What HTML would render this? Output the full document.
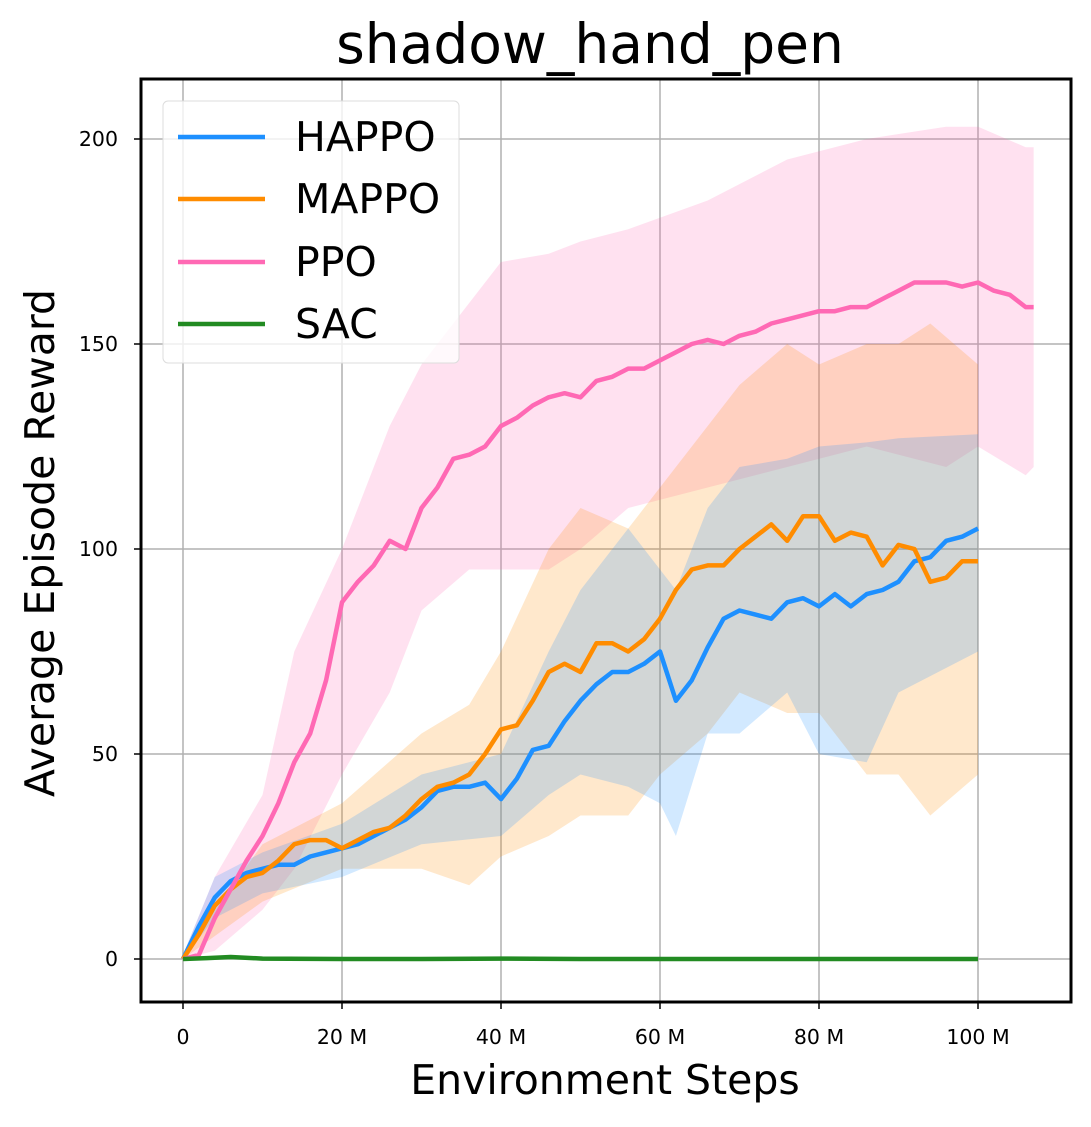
<!DOCTYPE html>
<html><head><meta charset="utf-8"><style>
body{margin:0;background:#fff}
svg text{font-family:"DejaVu Sans","Liberation Sans",sans-serif}
</style></head><body>
<svg id="c" width="1091" height="1122" xmlns="http://www.w3.org/2000/svg">
<rect width="1091" height="1122" fill="#fff"/>
<text x="590" y="63" font-size="55" text-anchor="middle">shadow_hand_pen</text>
<g id="grid"></g>
<g id="bands"></g>
<g id="lines"></g>
<rect x="141" y="79" width="930" height="923" fill="none" stroke="#000" stroke-width="3"/>
<g id="ticks"></g>
<text x="605" y="1094" font-size="41" text-anchor="middle">Environment Steps</text>
<text transform="translate(54,543) rotate(-90)" font-size="41" text-anchor="middle">Average Episode Reward</text>
<g>
<rect x="163" y="101" width="296" height="262" rx="5" fill="#fff" fill-opacity="0.8" stroke="#ddd"/>
<g><line x1="178" x2="265" y1="137" y2="137" stroke="#1e90ff" stroke-width="4.5"/><text x="295" y="151" font-size="41">HAPPO</text></g>
<g><line x1="178" x2="265" y1="199" y2="199" stroke="#ff8c00" stroke-width="4.5"/><text x="295" y="213" font-size="41">MAPPO</text></g>
<g><line x1="178" x2="265" y1="262" y2="262" stroke="#ff69b4" stroke-width="4.5"/><text x="295" y="276" font-size="41">PPO</text></g>
<g><line x1="178" x2="265" y1="324" y2="324" stroke="#228b22" stroke-width="4.5"/><text x="295" y="338" font-size="41">SAC</text></g>
</g>
</svg>
<script>
const xTicks=[0,20,40,60,80,100];
const xTickLabels=["0","20 M","40 M","60 M","80 M","100 M"];
const yTicks=[0,50,100,150,200];
const yTickLabels=["0","50","100","150","200"];

const happoX=[0,2,4,6,8,10,12,14,16,18,20,22,24,26,28,30,32,34,36,38,40,42,44,46,48,50,52,54,56,58,60,62,64,66,68,70,72,74,76,78,80,82,84,86,88,90,92,94,96,98,100];
const happoY=[0,8,15,19,21,22,23,23,25,26,27,28,30,32,34,37,41,42,42,43,39,44,51,52,58,63,67,70,70,72,75,63,68,76,83,85,84,83,87,88,86,89,86,89,90,92,97,98,102,103,105];
const happoBandX=[0,4,10,20,30,40,46,50,56,60,62,66,70,76,80,86,90,100];
const happoHi=[1,20,26,33,45,50,75,90,105,95,90,110,120,122,125,126,127,128];
const happoLo=[0,10,16,20,28,30,40,45,42,38,30,55,55,65,50,48,65,75];

const mappoX=[0,2,4,6,8,10,12,14,16,18,20,22,24,26,28,30,32,34,36,38,40,42,44,46,48,50,52,54,56,58,60,62,64,66,68,70,72,74,76,78,80,82,84,86,88,90,92,94,96,98,100];
const mappoY=[0,6,13,17,20,21,24,28,29,29,27,29,31,32,35,39,42,43,45,50,56,57,63,70,72,70,77,77,75,78,83,90,95,96,96,100,103,106,102,108,108,102,104,103,96,101,100,92,93,97,97];
const mappoBandX=[0,10,20,30,36,40,46,50,56,60,66,70,76,80,86,90,94,100];
const mappoHi=[1,28,38,55,62,75,100,110,105,115,130,140,150,145,150,150,155,145];
const mappoLo=[0,14,22,22,18,25,30,35,35,45,55,65,60,60,45,45,35,45];

const ppoX=[0,2,4,6,8,10,12,14,16,18,20,22,24,26,28,30,32,34,36,38,40,42,44,46,48,50,52,54,56,58,60,62,64,66,68,70,72,74,76,78,80,82,84,86,88,90,92,94,96,98,100,102,104,106,107];
const ppoY=[0,1,10,17,24,30,38,48,55,68,87,92,96,102,100,110,115,122,123,125,130,132,135,137,138,137,141,142,144,144,146,148,150,151,150,152,153,155,156,157,158,158,159,159,161,163,165,165,165,164,165,163,162,159,159];
const ppoBandX=[0,4,10,14,20,26,30,36,40,46,50,56,66,76,86,96,100,106,107];
const ppoHi=[1,20,40,75,100,130,145,160,170,172,175,178,185,195,200,203,203,198,198];
const ppoLo=[0,2,12,22,45,65,85,95,95,95,100,110,115,120,125,120,125,118,120];

const sacX=[0,3,6,10,20,30,40,50,60,70,80,90,100];
const sacY=[0,0.2,0.5,0.1,0,0,0.1,0,0,0,0,0,0];

const X0=183,XS=7.95,Y0=959,YS=4.1;
const sx=v=>X0+v*XS, sy=v=>Y0-v*YS;
const NS="http://www.w3.org/2000/svg";
function mk(t,a,p){const e=document.createElementNS(NS,t);for(const k in a)e.setAttribute(k,a[k]);p.appendChild(e);return e;}
const grid=document.getElementById('grid'),ticks=document.getElementById('ticks');
xTicks.forEach((v,i)=>{
  const g=mk('line',{x1:sx(v),x2:sx(v),y1:79,y2:1002,stroke:'#b0b0b0','stroke-width':1.5},grid);
  
  
  mk('line',{x1:sx(v),x2:sx(v),y1:1002,y2:1009,stroke:'#000','stroke-width':1.5},ticks);
  const t=mk('text',{x:sx(v),y:1044,'font-size':20.5,'text-anchor':'middle'},ticks);
  t.textContent=xTickLabels[i];
  
  
});
yTicks.forEach((v,i)=>{
  const g=mk('line',{x1:141,x2:1071,y1:sy(v),y2:sy(v),stroke:'#b0b0b0','stroke-width':1.5},grid);
  
  
  mk('line',{x1:134,x2:141,y1:sy(v),y2:sy(v),stroke:'#000','stroke-width':1.5},ticks);
  const t=mk('text',{x:118,y:sy(v)+7,'font-size':20.5,'text-anchor':'end'},ticks);
  t.textContent=yTickLabels[i];
  
  
});
const bands=document.getElementById('bands'),lines=document.getElementById('lines');
function band(xs,hi,lo,col,name){
  let pts=xs.map((x,i)=>sx(x)+','+sy(hi[i]));
  for(let i=xs.length-1;i>=0;i--)pts.push(sx(xs[i])+','+sy(lo[i]));
  const p=mk('polygon',{points:pts.join(' '),fill:col,'fill-opacity':0.2},bands);
  
  
}
function line(xs,ys,col,name){
  const p=mk('polyline',{points:xs.map((x,i)=>sx(x)+','+sy(ys[i])).join(' '),fill:'none',stroke:col,'stroke-width':4.5,'stroke-linejoin':'round'},lines);
  
  
}
band(ppoBandX,ppoHi,ppoLo,'#ff69b4','ppo-band');
band(mappoBandX,mappoHi,mappoLo,'#ff8c00','mappo-band');
band(happoBandX,happoHi,happoLo,'#1e90ff','happo-band');
line(happoX,happoY,'#1e90ff','happo-line');
line(mappoX,mappoY,'#ff8c00','mappo-line');
line(ppoX,ppoY,'#ff69b4','ppo-line');
line(sacX,sacY,'#228b22','sac-line');
</script>
</body></html>
